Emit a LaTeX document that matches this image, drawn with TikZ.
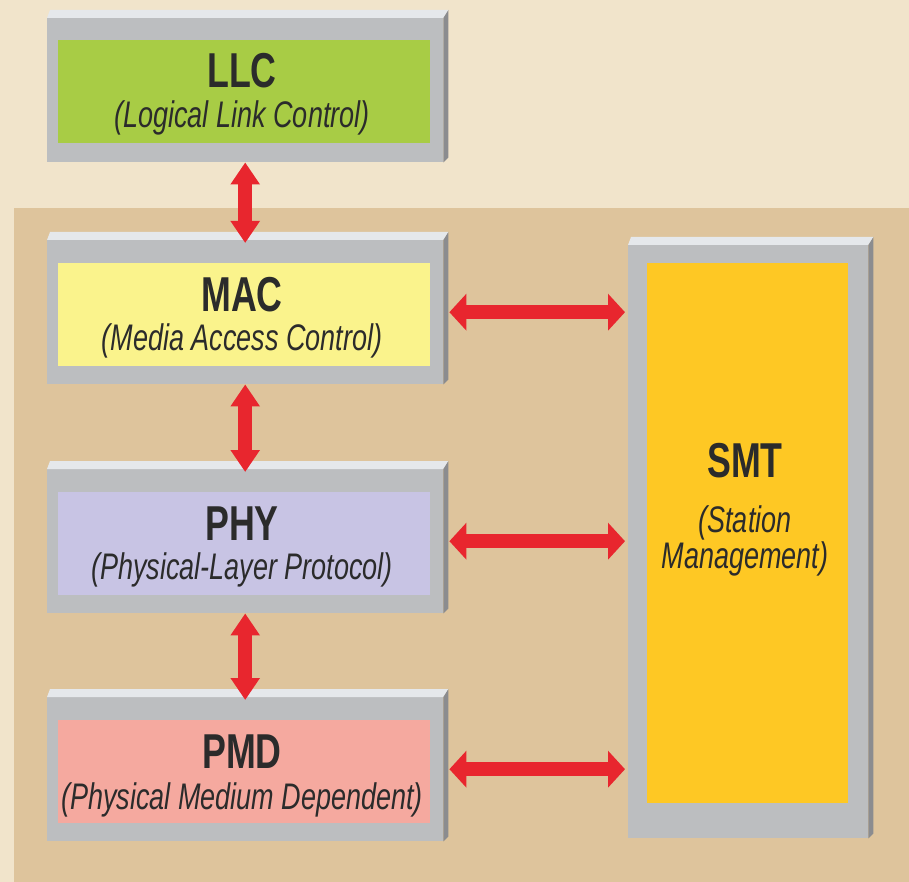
\documentclass[tikz,border=0pt]{standalone}
\usepackage{fontspec}
\setmainfont{Liberation Sans}
\newfontfamily\condfont[FakeStretch=0.73]{Liberation Sans}
\usetikzlibrary{positioning, arrows.meta, calc}

\definecolor{cream}{HTML}{F1E4CB}
\definecolor{tan}{HTML}{DEC49C}
\definecolor{framegray}{HTML}{BCBEC0}
\definecolor{hilite}{HTML}{E5E8EB}
\definecolor{bevelgray}{HTML}{8B8C8F}
\definecolor{llcgreen}{HTML}{A8CC45}
\definecolor{macyellow}{HTML}{FAF38C}
\definecolor{phylav}{HTML}{C8C4E4}
\definecolor{pmdpink}{HTML}{F5A99F}
\definecolor{smtyellow}{HTML}{FEC824}
\definecolor{arrred}{HTML}{E8262E}
\definecolor{txt}{HTML}{2B2B2B}

\begin{document}
\begin{tikzpicture}[
    x=1pt, y=-1pt,
    frame/.style={fill=framegray, inner sep=0pt, anchor=north west, minimum width=396pt, minimum height=144pt},
    core/.style={inner sep=0pt, anchor=north west, minimum width=372pt, minimum height=103pt},
    title/.style={font=\condfont\bfseries\fontsize{49}{49}\selectfont, text=txt, anchor=base},
    sub/.style={font=\condfont\itshape\fontsize{37}{37}\selectfont, text=txt, anchor=base},
    varr/.style={{Triangle[width=28pt,length=22pt]}-{Triangle[width=28pt,length=22pt]}, line width=14pt, draw=arrred},
    harr/.style={{Triangle[width=36pt,length=17pt]}-{Triangle[width=36pt,length=17pt]}, line width=14pt, draw=arrred}
]
    \useasboundingbox (0,0) rectangle (909,882);

    % Backgrounds
    \fill[cream] (0,0) rectangle (909,882);
    \fill[tan] (14,208) rectangle (909,882);

    % Gray frames
    \node[frame] (llc) at (47,18) {};
    \node[frame] (mac) at (47,240) {};
    \node[frame] (phy) at (47,469) {};
    \node[frame] (pmd) at (47,697) {};
    \node[frame, minimum width=240pt, minimum height=593pt] (smt) at (628,245) {};

    % 3D edges
    \foreach \b in {llc,mac,phy,pmd,smt} {
        \fill[hilite] (\b.north west) -- (\b.north east) -- ++(5,-8) -- ([shift={(3,-8)}]\b.north west) -- cycle;
        \fill[bevelgray] (\b.north east) -- ++(5,-8) -- ([shift={(5,-5)}]\b.south east) -- (\b.south east) -- cycle;
    }

    % Coloured faces
    \node[core, fill=llcgreen] (llc-in) at (58,40) {};
    \node[core, fill=macyellow] (mac-in) at (58,263) {};
    \node[core, fill=phylav] (phy-in) at (58,492) {};
    \node[core, fill=pmdpink] (pmd-in) at (58,720) {};
    \node[core, fill=smtyellow, minimum width=201pt, minimum height=540pt] (smt-in) at (647,263) {};

    % Labels
    \node[title] (llc-t) at (242,88) {LLC};
    \node[sub] (llc-s) at (242,128) {(Logical Link Control)};
    \node[title] (mac-t) at (242,311) {MAC};
    \node[sub] (mac-s) at (242,350) {(Media Access Control)};
    \node[title] (phy-t) at (242,540) {PHY};
    \node[sub] (phy-s) at (242,579) {(Physical-Layer Protocol)};
    \node[title] (pmd-t) at (242,768) {PMD};
    \node[sub] (pmd-s) at (242,809) {(Physical Medium Dependent)};
    \node[title] (smt-t) at (745,477) {SMT};
    \node[sub] (smt-s1) at (745,532) {(Station};
    \node[sub] (smt-s2) at (745,568) {Management)};

    % Arrows
    \draw[varr, shorten >=-3pt] (llc.south) -- (mac.north);
    \draw[varr, shorten >=-3pt] (mac.south) -- (phy.north);
    \draw[varr, shorten >=-3pt] (phy.south) -- (pmd.north);
    \draw[harr, shorten <=6pt, shorten >=3pt] (mac.east) -- (mac.east -| smt.west);
    \draw[harr, shorten <=6pt, shorten >=3pt] (phy.east) -- (phy.east -| smt.west);
    \draw[harr, shorten <=6pt, shorten >=3pt] (pmd.east) -- (pmd.east -| smt.west);
\end{tikzpicture}
\end{document}
